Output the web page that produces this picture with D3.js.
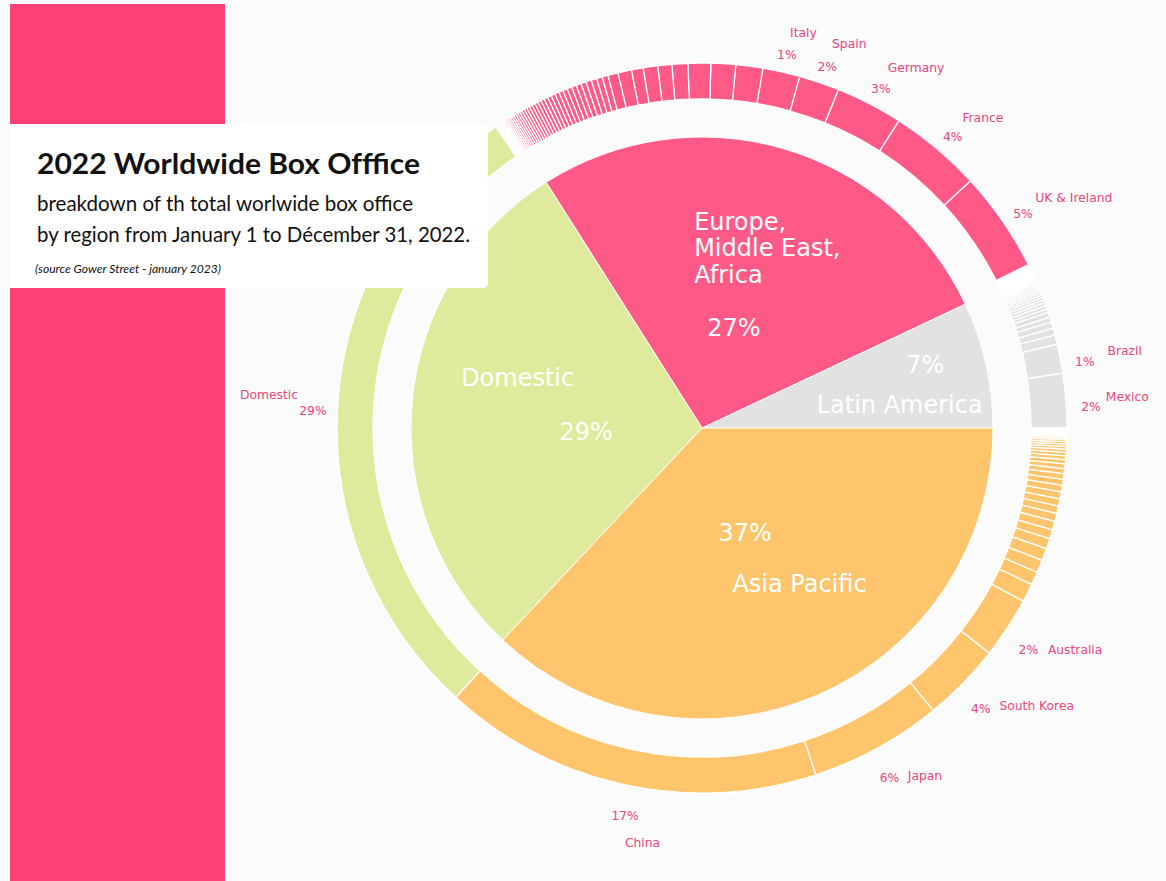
<!DOCTYPE html>
<html><head><meta charset="utf-8">
<script src="https://cdn.jsdelivr.net/npm/d3@7"></script>
<style>body{margin:0;background:#fbfbfb}svg{display:block}</style>
</head><body><svg id="c" width="1166" height="881"></svg>
<script>
// ---------- DATA ----------
const regions = ["Latin America", "Europe,\nMiddle East,\nAfrica", "Domestic", "Asia Pacific"];
const regionShare = [7, 27, 29, 37];

// outer ring (countries), in % of the worldwide total
const latinCountries = ["Mexico", "Brazil"];
const latinValues = [2.4, 1.28];
const latinPct = [2, 1];
const latinOthers = [0.42,0.3,0.28,0.22,0.22,0.16,0.15,0.14,0.13,0.12,0.11,0.1,0.095,0.09,0.085,0.08,0.075,0.07,0.065,0.06,0.055,0.05,0.048,0.046,0.044,0.042,0.04,0.038,0.036,0.034,0.032,0.03,0.028,0.026,0.024,0.022,0.02,0.018,0.016,0.014,0.012,0.01,0.009,0.008,0.007,0.006,0.005,0.004,0.003,0.002];

const europeCountries = ["UK & Ireland", "France", "Germany", "Spain", "Italy"];
const europeValues = [4.44, 4.08, 2.97, 1.78, 1.64];
const europePct = [5, 4, 3, 2, 1];
const europeOthers = [1.19,1.09,1.0,0.7,0.62,0.64,0.52,0.6,0.45,0.26,0.25,0.245,0.24,0.23,0.22,0.215,0.21,0.2,0.19,0.185,0.18,0.17,0.165,0.16,0.15,0.145,0.14,0.135,0.13,0.12,0.115,0.11,0.105,0.1,0.095,0.09,0.085,0.08,0.075,0.07,0.065,0.06,0.055,0.05,0.045,0.04,0.035,0.03,0.027,0.024,0.021,0.018,0.015,0.012,0.01,0.008,0.006,0.005,0.004,0.003,0.002];

const domesticCountries = ["Domestic"];
const domesticValues = [28.6];
const domesticPct = [29];
const domesticOthers = [];

const asiaCountries = ["China", "Japan", "South Korea", "Australia"];
const asiaValues = [16.8, 5.86, 3.5, 2.7];
const asiaPct = [17, 6, 4, 2];
const asiaOthers = [0.82,0.58,0.56,0.54,0.46,0.4,0.38,0.36,0.33,0.32,0.31,0.29,0.26,0.25,0.22,0.21,0.18,0.17,0.15,0.14,0.12,0.11,0.1,0.09,0.08,0.07,0.06,0.05,0.045,0.04,0.035,0.03,0.025,0.02,0.016,0.012,0.009,0.006,0.004,0.002];

const titleText = "2022 Worldwide Box Offfice";
const subtitleLines = ["breakdown of th total worlwide box office", "by region from January 1 to Décember 31, 2022."];
const sourceText = "(source Gower Street - january 2023)";

// ---------- STYLE / LAYOUT ----------
const regionColors = ["#e2e2e2", "#ff5a87", "#dfea9c", "#fec56c"];
const labelColor = "#e8467c";
const W = 1166, H = 881, cx = 702, cy = 428;
const rPie = 291, rRingIn = 329, rRingOut = 365;
const rPctOut = 390, rNameOut = 405, pctShift = 8;
const innerLabelLayout = [
  {nameR: 199, nameDeg: -6.0, anchor: "middle", pctR: 232, pctDeg: 3.2},
  {nameR: 180, nameDeg: 18.7, anchor: "start", pctR: 105, pctDeg: -1.5},
  {nameR: 191, nameDeg: -9.8, anchor: "middle", pctR: 116, pctDeg: 7.4},
  {nameR: 184, nameDeg: 8.6, anchor: "middle", pctR: 113.5, pctDeg: -1.1}
];
const outerLabelNudge = {
  "China": {anchor: "start", nx: 8, ny: 19, px: 5, py: -1},
  "Domestic": {ny: -5, py: 2},
  "Brazil": {nx: 8},
  "Australia": {nx: 7},
  "South Korea": {nx: 8, ny: -5},
  "Japan": {nx: 11, ny: -7}
};

const svg = d3.select("#c");
svg.append("rect").attr("width", W).attr("height", H).attr("fill", "#fbfbfb");
svg.append("rect").attr("x", 10).attr("y", 4).attr("width", 215).attr("height", H - 4).attr("fill", "#ff4275");

const g = svg.append("g").attr("transform", `translate(${cx},${cy})`);

const pie = d3.pie().sort(null).value(d => d)
  .startAngle(Math.PI / 2).endAngle(Math.PI / 2 - 2 * Math.PI);
const arcsIn = pie(regionShare);
const arcInner = d3.arc().innerRadius(0).outerRadius(rPie);
const arcOuter = d3.arc().innerRadius(rRingIn).outerRadius(rRingOut);

// outer ring segments
const groups = [
  {names: latinCountries, values: latinValues, pct: latinPct, others: latinOthers},
  {names: europeCountries, values: europeValues, pct: europePct, others: europeOthers},
  {names: domesticCountries, values: domesticValues, pct: domesticPct, others: domesticOthers},
  {names: asiaCountries, values: asiaValues, pct: asiaPct, others: asiaOthers}
];
const segData = [];
groups.forEach((grp, i) => {
  grp.values.concat(grp.others).forEach((v, j) => {
    segData.push({region: i, name: j < grp.names.length ? grp.names[j] : null,
      pct: j < grp.pct.length ? grp.pct[j] : null, value: v});
  });
});
const pieOuter = d3.pie().sort(null).value(d => d.value)
  .startAngle(Math.PI / 2).endAngle(Math.PI / 2 - 2 * Math.PI);
const segs = pieOuter(segData);

g.selectAll("path.seg").data(segs).join("path").attr("class", "seg")
  .attr("d", arcOuter)
  .attr("fill", d => regionColors[d.data.region])
  .attr("stroke", "#ffffff").attr("stroke-width", 1.3);

g.selectAll("path.in").data(arcsIn).join("path").attr("class", "in")
  .attr("d", arcInner)
  .attr("fill", (d, i) => regionColors[i])
  .attr("stroke", "#ffffff").attr("stroke-width", 1);

const mid = d => (d.startAngle + d.endAngle) / 2;
const px = (a, r) => r * Math.sin(a);
const py = (a, r) => -r * Math.cos(a);
const rad = Math.PI / 180;

// inner labels
arcsIn.forEach((d, i) => {
  const L = innerLabelLayout[i];
  const an = mid(d) - L.nameDeg * rad;
  const x = px(an, L.nameR), y = py(an, L.nameR);
  const lines = regions[i].split("\n");
  const lh = 26.5;
  const t = g.append("text").attr("text-anchor", L.anchor)
    .attr("font-family", "DejaVu Sans").attr("font-size", 24).attr("fill", "#ffffff")
    .attr("dominant-baseline", "central");
  lines.forEach((ln, k) => {
    t.append("tspan").attr("x", x).attr("y", y + (k - (lines.length - 1) / 2) * lh).text(ln);
  });
  const ap = mid(d) - L.pctDeg * rad;
  g.append("text").attr("x", px(ap, L.pctR)).attr("y", py(ap, L.pctR))
    .attr("text-anchor", "middle").attr("dominant-baseline", "central")
    .attr("font-family", "DejaVu Sans").attr("font-size", 24).attr("fill", "#ffffff")
    .text(d.data + "%");
});

// outer labels
segs.filter(s => s.data.name).forEach(s => {
  const a = mid(s);
  const n = outerLabelNudge[s.data.name] || {};
  const nx = px(a, rNameOut) + (n.nx || 0), ny = py(a, rNameOut) + (n.ny || 0);
  const anchor = n.anchor || (Math.sin(a) > 0 ? "start" : "end");
  g.append("text").attr("x", nx).attr("y", ny).attr("text-anchor", anchor)
    .attr("dominant-baseline", "central")
    .attr("font-family", "DejaVu Sans").attr("font-size", 12.3).attr("fill", labelColor)
    .text(s.data.name);
  g.append("text").attr("x", px(a, rPctOut) + (n.px || 0)).attr("y", py(a, rPctOut) + pctShift + (n.py || 0))
    .attr("text-anchor", "middle").attr("dominant-baseline", "central")
    .attr("font-family", "DejaVu Sans").attr("font-size", 12.3).attr("fill", labelColor)
    .text(s.data.pct + "%");
});

// title box
svg.append("path").attr("d", "M10,124 H482 Q488,124 488,130 V282 Q488,288 482,288 H10 Z").attr("fill", "#ffffff");
svg.append("text").attr("x", 37).attr("y", 174).text(titleText)
  .attr("font-family", "Lato").attr("font-weight", 700).attr("font-size", 28)
  .attr("textLength", 383).attr("lengthAdjust", "spacingAndGlyphs").attr("fill", "#111");
subtitleLines.forEach((ln, k) => {
  svg.append("text").attr("x", 37).attr("y", 211 + k * 31).text(ln)
    .attr("font-family", "Lato").attr("font-size", 21)
    .attr("textLength", k === 0 ? 376 : 433).attr("lengthAdjust", "spacingAndGlyphs").attr("fill", "#111");
});
svg.append("text").attr("x", 35).attr("y", 273).text(sourceText)
  .attr("font-family", "Lato").attr("font-style", "italic").attr("font-size", 11)
  .attr("textLength", 186).attr("lengthAdjust", "spacingAndGlyphs").attr("fill", "#111");
</script>
</body></html>
